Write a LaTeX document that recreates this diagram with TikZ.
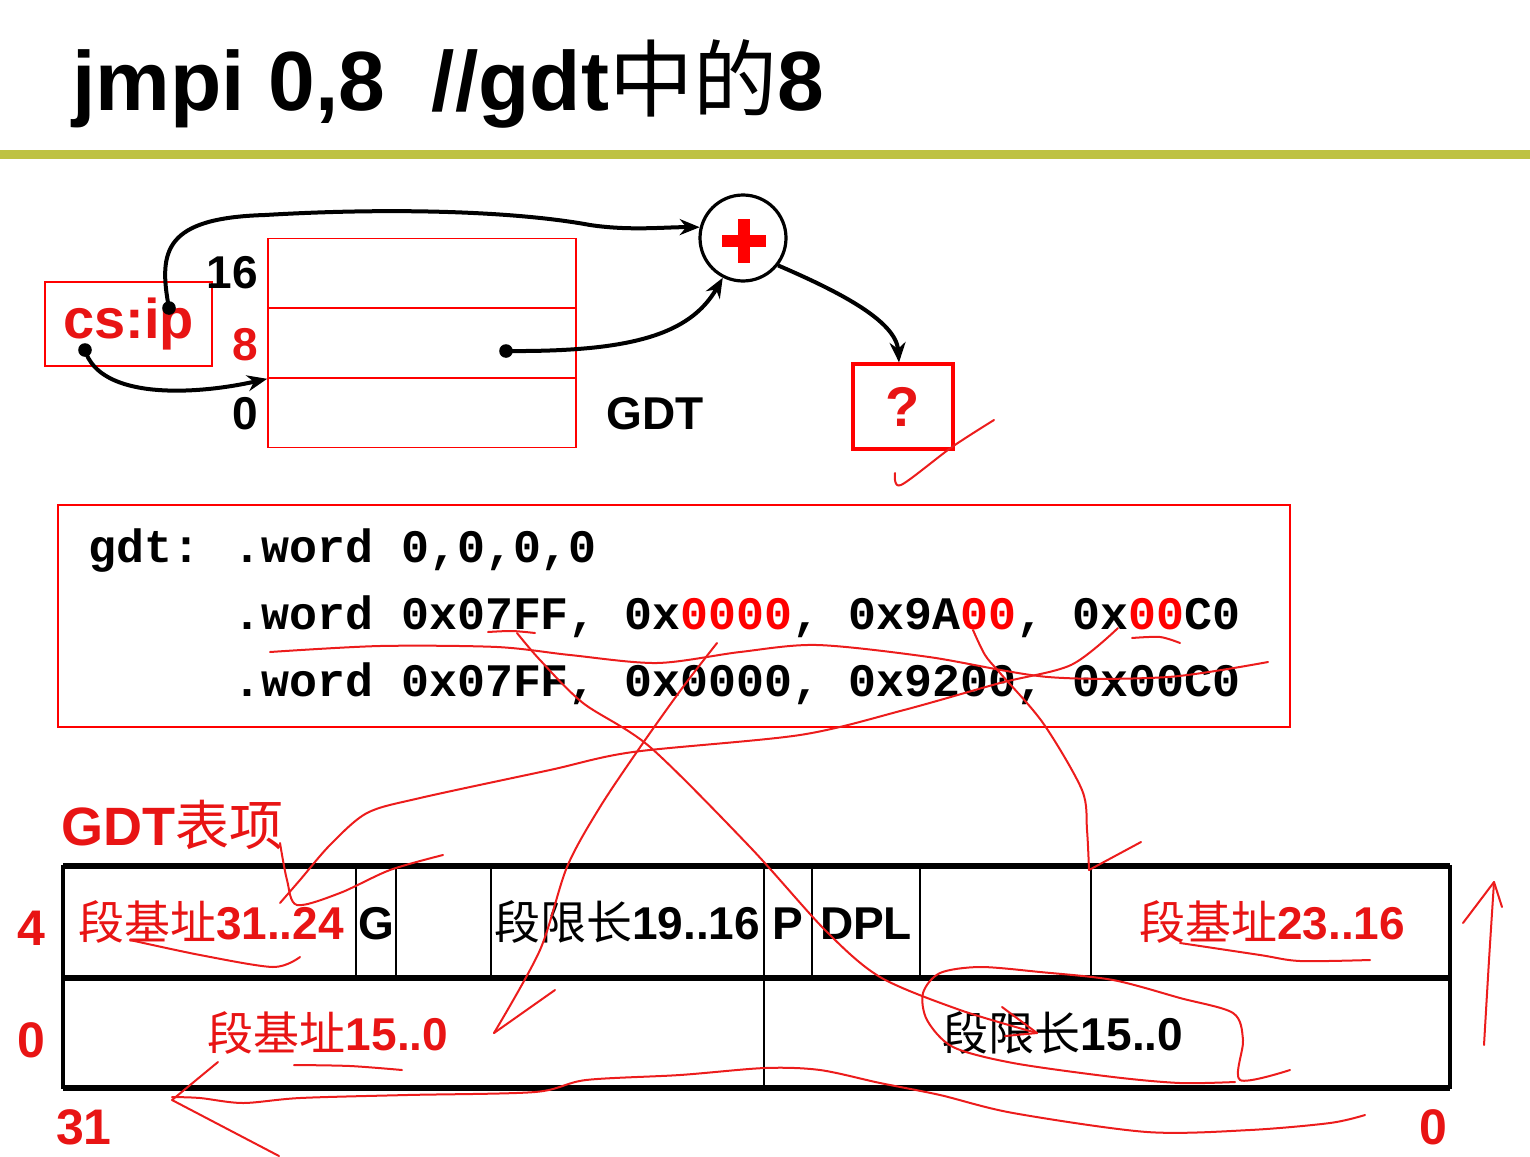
\documentclass[tikz,border=0pt]{standalone}
\usepackage{fontspec}
\usepackage{xcolor}
\setmainfont{Liberation Sans}
\newfontfamily\cjk{Noto Sans CJK SC}
\newfontfamily\codefont{Liberation Mono}
\usetikzlibrary{arrows.meta}
\definecolor{barolive}{RGB}{190,194,66}
\definecolor{inkred}{RGB}{232,20,20}
\definecolor{penred}{RGB}{236,28,28}
\newcommand{\zh}[1]{{\cjk\mdseries #1}}
\tikzset{
  redbox/.style={draw=red,line width=0.8pt,inner sep=0pt},
  lbl/.style={font=\fontsize{23}{26}\selectfont\bfseries,inner sep=0pt},
  cellt/.style={font=\fontsize{23}{26}\selectfont\bfseries,inner sep=0pt},
  codeline/.style={font=\fontsize{23.3}{26}\selectfont\codefont\bfseries,anchor=base west,inner sep=0pt},
  link/.style={-{Stealth[length=10pt,width=8pt]},line width=2pt},
  pen/.style={draw=penred,line width=1pt,line cap=round,line join=round},
  rule/.style={line width=2.6pt},
  sep/.style={line width=1.4pt}
}

\begin{document}
\begin{tikzpicture}[x=0.5pt,y=-0.5pt]
        \useasboundingbox (0,0) rectangle (1530,1156);
        \node[anchor=base west,inner sep=0pt,font=\fontsize{42}{48}\selectfont\bfseries] (title) at (72,111) {jmpi 0,8\ \ //gdt\zh{中的}8};
        \fill[barolive] (0,150) rectangle (1530,159);

        \node[redbox,minimum width=83.5pt,minimum height=42pt,text=inkred,font=\fontsize{28}{32}\selectfont\bfseries] (csip) at (128.5,324) {cs:ip};

        \node[redbox,minimum width=154pt,minimum height=35pt] (row16) at (422,273.5) {};
        \node[redbox,minimum width=154pt,minimum height=35pt] (row8) at (422,343) {};
        \node[redbox,minimum width=154pt,minimum height=35pt] (row0) at (422,412.5) {};
        \node[lbl,anchor=east] (lab16) at (258,273) {16};
        \node[lbl,anchor=east,text=inkred] (lab8) at (258,345) {8};
        \node[lbl,anchor=east] (lab0) at (258,414) {0};
        \node[lbl] (gdtname) at (655,414) {GDT};

        \node[circle,draw,line width=1.6pt,minimum size=43pt,inner sep=0pt] (plus) at (743,238) {};
        \draw[red,line width=6pt] (722,241) -- (766,241);
        \draw[red,line width=6pt] (744,219) -- (744,263);
        \node[draw=red,line width=1.6pt,minimum width=50pt,minimum height=42.5pt,text=inkred,font=\fontsize{28}{32}\selectfont\bfseries] (query) at (903,406.5) {?};

        \coordinate (ipdot) at (169,308);
        \coordinate (cdot) at (85,350);
        \coordinate (tabdot) at (506,351);
        \fill (ipdot) circle[radius=3.4pt];
        \fill (cdot) circle[radius=3.4pt];
        \fill (tabdot) circle[radius=3.4pt];
        \draw[link] (ipdot) .. controls (158,250) and (165,218) .. (265,215) .. controls (400,207) and (520,212) .. (590,225) .. controls (630,231) and (665,227) .. (plus.166);
        \draw[link] (cdot) .. controls (100,400) and (195,395) .. (row8.south west);
        \draw[link] (tabdot) .. controls (630,352) and (690,335) .. (plus.243);
        \draw[link] (plus.-38) .. controls (835,290) and (896,320) .. ([xshift=-2pt]query.north);

        \node[redbox,minimum width=616pt,minimum height=111pt] (code) at (674,616) {};
        \node[codeline] (gdtword) at (88,562) {gdt:};
        \node[codeline] (word0) at (233,562) {.word 0,0,0,0};
        \node[codeline] (word1) at (233,629) {.word 0x07FF, 0x\textcolor{red}{0000}, 0x9A\textcolor{red}{00}, 0x\textcolor{red}{00}C0};
        \node[codeline] (word2) at (233,696) {.word 0x07FF, 0x0000, 0x9200, 0x00C0};

        \node[anchor=base west,inner sep=0pt,text=inkred,font=\fontsize{27}{30}\selectfont\bfseries] (entry) at (61,845) {GDT\zh{表项}};

        \draw[rule] (63,866) -- (1450,866);
        \draw[rule] (63,978) -- (1450,978);
        \draw[rule] (63,1088) -- (1450,1088);
        \draw[line width=2pt] (63,865) -- (63,1089);
        \draw[line width=2pt] (1450,865) -- (1450,1089);
        \foreach \xx in {356,396,491,812,920,1091}
            \draw[sep] (\xx,866) -- (\xx,978);
        \draw[sep] (764,866) -- (764,1088);

        \node[cellt,text=inkred] (base3124) at (211,922) {\zh{段基址}31..24};
        \node[cellt] (gbit) at (376,924) {G};
        \node[cellt] (lim1916) at (627,922) {\zh{段限长}19..16};
        \node[cellt] (pbit) at (788,924) {P};
        \node[cellt] (dpl) at (866,924) {DPL};
        \node[cellt,text=inkred] (base2316) at (1272,922) {\zh{段基址}23..16};
        \node[cellt,text=inkred] (base150) at (328,1033) {\zh{段基址}15..0};
        \node[cellt] (lim150) at (1063,1033) {\zh{段限长}15..0};

        \node[lbl,text=inkred,font=\fontsize{25}{28}\selectfont\bfseries] (hi) at (31,928) {4};
        \node[lbl,text=inkred,font=\fontsize{25}{28}\selectfont\bfseries] (lo) at (31,1040) {0};
        \node[lbl,text=inkred,font=\fontsize{25}{28}\selectfont\bfseries] (msb) at (84,1127) {31};
        \node[lbl,text=inkred,font=\fontsize{25}{28}\selectfont\bfseries] (lsb) at (1433,1127) {0};

        \draw[pen] plot[smooth] coordinates {(895,473) (901,485) (952,447) (994,420)};
        \draw[pen] plot[smooth] coordinates {(270,652) (380,646) (497,647) (570,655) (657,663) (740,652) (817,645) (929,657) (1048,677) (1168,677) (1268,662)};
        \draw[pen] plot[smooth] coordinates {(488,632) (512,631) (535,633)};
        \draw[pen] plot[smooth] coordinates {(1132,638) (1160,637) (1180,643)};
        \draw[pen] plot[smooth] coordinates {(517,633) (540,660) (583,703) (650,747) (750,847) (825,930) (880,977) (960,1010) (1037,1033)};
        \draw[pen] (1002,1007) -- (1037,1033) -- (1005,1036);
        \draw[pen] plot[smooth] coordinates {(1290,1070) (1240,1080) (1243,1040) (1233,1013) (1180,998) (1113,980) (1040,972) (980,967) (940,973) (923,993) (927,1020) (953,1047) (1013,1063) (1113,1077) (1180,1083) (1235,1082)};
        \draw[pen] plot[smooth] coordinates {(717,643) (683,687) (643,743) (600,807) (567,867) (540,950) (494,1033)};
        \draw[pen] (494,1033) -- (555,990);
        \draw[pen] plot[smooth] coordinates {(1118,628) (1071,665) (1000,683) (904,710) (800,735) (633,752) (550,770) (420,798) (367,813) (330,845) (300,880) (280,903)};
        \draw[pen] plot[smooth] coordinates {(280,843) (287,880) (297,905) (340,893) (390,870) (443,855)};
        \draw[pen] plot[smooth] coordinates {(130,940) (200,955) (273,967) (300,957)};
        \draw[pen] plot[smooth] coordinates {(973,630) (985,655) (1000,673) (1043,723) (1082,790) (1087,830) (1089,870)};
        \draw[pen] (1089,870) -- (1141,842);
        \draw[pen] plot[smooth] coordinates {(1180,943) (1260,955) (1300,961) (1370,960)};
        \draw[pen] plot[smooth] coordinates {(294,1065) (350,1066) (402,1070)};
        \draw[pen] plot[smooth] coordinates {(1365,1115) (1330,1123) (1250,1130) (1147,1132) (1013,1113) (940,1095) (880,1083) (820,1070) (765,1068) (680,1075) (586,1080) (535,1092) (407,1095) (300,1098) (243,1103) (200,1098) (172,1097)};
        \draw[pen] (218,1062) -- (172,1100) -- (279,1156);
        \draw[pen] plot[smooth] coordinates {(1484,1045) (1489,960) (1494,882)};
        \draw[pen] (1463,923) -- (1494,882) -- (1502,907);
    \end{tikzpicture}
\end{document}
